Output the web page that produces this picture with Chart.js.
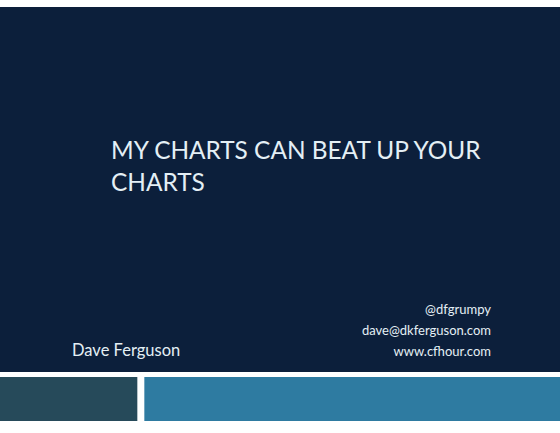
<!DOCTYPE html>
<html><head><meta charset="utf-8">
<script src="https://cdn.jsdelivr.net/npm/chart.js@4"></script>
<style>
html,body{margin:0;padding:0;width:560px;height:433px;background:#fff;overflow:hidden;}
#slide{position:absolute;left:0;top:7px;width:560px;height:365px;background:#0c1f3b;}
.t{position:absolute;color:#e4eff5;font-family:Lato,"Open Sans",sans-serif;white-space:nowrap;}
#title{left:111px;top:134px;font-size:24.4px;line-height:32px;}
#name{left:72px;top:340px;font-size:16.5px;}
#contact{right:69px;top:299px;font-size:13px;line-height:21px;text-align:right;}
#band{position:absolute;left:0;top:377px;width:560px;height:44px;}
</style></head>
<body>
<div id="slide"></div>
<div class="t" id="title"><span id="l1"></span><br><span id="l2"></span></div>
<div class="t" id="name"></div>
<div class="t" id="contact"></div>
<div id="band"><canvas id="c" width="560" height="44"></canvas></div>
<script>
const titleLines = ["MY CHARTS CAN BEAT UP YOUR", "CHARTS"];
const author = "Dave Ferguson";
const contactLines = ["@dfgrumpy", "dave@dkferguson.com", "www.cfhour.com"];
// bottom decorative band: segment names, spans (in slide units), colours
const bandSegments = ["left block", "gap", "right block"];
const bandSpans = [137, 7, 416];
const bandColors = ["#264a5a", "#ffffff", "#2e7ba1"];

document.getElementById('l1').textContent = titleLines[0];
document.getElementById('l2').textContent = titleLines[1];
document.getElementById('name').textContent = author;
document.getElementById('contact').innerHTML = contactLines.join('<br>');

new Chart(document.getElementById('c'), {
  type: 'bar',
  data: {
    labels: [''],
    datasets: bandSegments.map((s, i) => ({
      label: s, data: [bandSpans[i]], backgroundColor: bandColors[i],
      borderWidth: 0, barPercentage: 1, categoryPercentage: 1
    }))
  },
  options: {
    indexAxis: 'y', responsive: false, animation: false,
    layout: {padding: 0},
    plugins: {legend: {display: false}, tooltip: {enabled: false}},
    scales: {
      x: {stacked: true, display: false, min: 0, max: bandSpans.reduce((a, b) => a + b, 0)},
      y: {stacked: true, display: false}
    }
  }
});
</script>
</body></html>
